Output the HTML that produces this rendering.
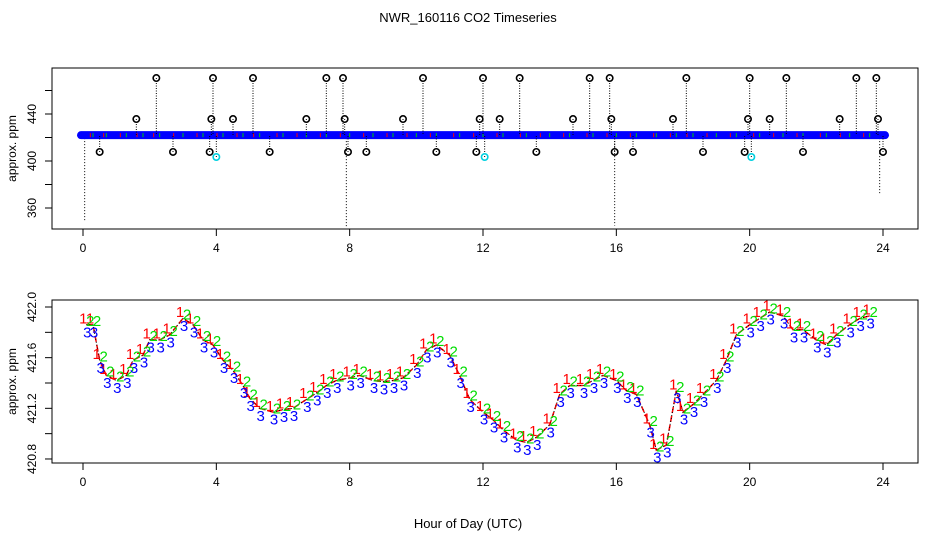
<!DOCTYPE html>
<html><head><meta charset="utf-8"><style>
body{margin:0;background:#fff}
svg{display:block;font-family:"Liberation Sans",sans-serif}
</style></head><body>
<svg id="c" width="936" height="540">
<text x="468" y="22" font-size="13" text-anchor="middle">NWR_160116  CO2 Timeseries</text>
<text x="468" y="528" font-size="13" text-anchor="middle">Hour of Day (UTC)</text>
<g id="topPanel"></g>
<g id="botPanel"></g>
</svg>
<script>
// bottom panel data (hour, ppm)
const hours=[0.1,0.3,0.5,0.7,1.0,1.3,1.5,1.8,2.0,2.3,2.6,3.0,3.3,3.6,3.9,4.2,4.5,4.8,5.0,5.3,5.7,6.0,6.3,6.7,7.0,7.3,7.6,8.0,8.3,8.7,9.0,9.3,9.6,10.0,10.3,10.6,11.0,11.3,11.6,12.0,12.3,12.6,13.0,13.3,13.6,14.0,14.3,14.6,15.0,15.3,15.6,16.0,16.3,16.6,17.0,17.2,17.5,17.8,18.0,18.3,18.6,19.0,19.3,19.6,20.0,20.3,20.6,21.0,21.3,21.6,22.0,22.3,22.6,23.0,23.3,23.6];
const ppm=[421.86,421.86,421.58,421.46,421.42,421.46,421.58,421.62,421.74,421.74,421.78,421.91,421.86,421.74,421.70,421.58,421.50,421.38,421.28,421.20,421.17,421.19,421.20,421.27,421.32,421.38,421.42,421.44,421.46,421.42,421.41,421.42,421.44,421.54,421.66,421.70,421.62,421.46,421.27,421.17,421.11,421.03,420.95,420.93,420.97,421.07,421.31,421.38,421.38,421.42,421.46,421.42,421.34,421.31,421.07,420.87,420.91,421.34,421.17,421.23,421.31,421.42,421.58,421.78,421.86,421.91,421.96,421.93,421.82,421.82,421.74,421.70,421.78,421.86,421.91,421.93];
// top panel outliers
const hiHours=[2.2,3.9,5.1,7.3,7.8,10.2,12.0,13.1,15.2,15.8,18.1,20.0,21.1,23.2,23.8];
const hiVal=470.6;
const midHours=[1.6,3.85,4.5,6.7,7.85,9.6,11.9,12.5,14.7,15.85,17.7,19.95,20.6,22.7,23.85];
const midVal=435.7;
const lowHours=[0.5,2.7,3.8,5.6,7.95,8.5,10.6,11.8,13.6,15.95,16.5,18.6,19.85,21.6,24.0];
const lowVal=407.7;
const cyanHours=[4.0,12.05,20.05];
const cyanVal=403.4;
const xTicks=[0,4,8,12,16,20,24];
const topYTicks=[360,380,400,420,440,460];
const topYLabels=[360,400,440];
const botYTicks=[420.8,421.0,421.2,421.4,421.6,421.8,422.0];
const botYLabels=[420.8,421.2,421.6,422.0];

const NS="http://www.w3.org/2000/svg";
function mk(p,t,a,txt){const e=document.createElementNS(NS,t);for(const k in a)e.setAttribute(k,a[k]);if(txt!==undefined)e.textContent=txt;p.appendChild(e);return e;}
const X=h=>83+h*(800/24);
const YT=v=>208-(v-360)*47/40;
const YB=v=>307+(422-v)*126.65;

function axes(g,y0,y1,ticks,labels,Y,fmt){
  const b=mk(g,'rect',{x:52,y:y0,width:866,height:y1-y0,fill:'none',stroke:'#000','stroke-width':1});
  
  
  xTicks.forEach(t=>{mk(g,'line',{x1:X(t),x2:X(t),y1:y1,y2:y1+7,stroke:'#000'});
    const l=mk(g,'text',{x:X(t),y:y1+23,'font-size':12,'text-anchor':'middle'},String(t));
    
    });
  ticks.forEach(t=>mk(g,'line',{x1:45,x2:52,y1:Y(t),y2:Y(t),stroke:'#000'}));
  labels.forEach(t=>{const l=mk(g,'text',{x:36,y:Y(t),'font-size':12,'text-anchor':'middle',transform:`rotate(-90 36 ${Y(t)})`},fmt(t));
    
    });
  const yl=mk(g,'text',{x:16,y:(y0+y1)/2,'font-size':12,'text-anchor':'middle',transform:`rotate(-90 16 ${(y0+y1)/2})`},'approx. ppm');
  
  
}
const topG=document.getElementById('topPanel'),botG=document.getElementById('botPanel');
axes(topG,68,229,topYTicks,topYLabels,YT,v=>String(v));
axes(botG,300,463,botYTicks,botYLabels,YB,v=>v.toFixed(1));

// top: long dotted drops
[[0.05,348],[7.9,343],[15.95,345],[23.9,372]].forEach(d=>mk(topG,'line',{x1:X(d[0]),x2:X(d[0]),y1:YT(422),y2:YT(d[1]),stroke:'#000','stroke-dasharray':'1 2'}));
// top: blue band
mk(topG,'line',{x1:X(0)-2,x2:X(24)+2,y1:YT(422),y2:YT(422),stroke:'#0000ff','stroke-width':8,'stroke-linecap':'round'});
hours.forEach((h,i)=>{if(i%2)mk(topG,'line',{x1:X(h),x2:X(h),y1:YT(422)-2,y2:YT(422)+2,stroke:'#00cc00','stroke-width':1});
  else mk(topG,'line',{x1:X(h)+4,x2:X(h)+4,y1:YT(422)-2,y2:YT(422)+2,stroke:'#ff0000','stroke-width':1});});
function outl(hs,v,col){hs.forEach(h=>{
  mk(topG,'line',{x1:X(h),x2:X(h),y1:YT(v),y2:YT(422),stroke:'#000','stroke-dasharray':'1 1.5'});
  const c=mk(topG,'circle',{cx:X(h),cy:YT(v),r:3.2,fill:'none',stroke:col,'stroke-width':1.6});
  
  });}
outl(hiHours,hiVal,'#000');outl(midHours,midVal,'#000');outl(lowHours,lowVal,'#000');outl(cyanHours,cyanVal,'#00d0e0');

// bottom: lines and labels
const off=[[0.05,'#ff0000','1',-3],[0.03,'#00dd00','2',4],[-0.06,'#0000ff','3',1]];
let d='';hours.forEach((h,i)=>d+=(i?'L':'M')+X(h)+' '+YB(ppm[i]));
mk(botG,'path',{d:d,fill:'none',stroke:'#ff0000','stroke-width':1.5,'stroke-dasharray':'6 3'});
mk(botG,'path',{d:d,fill:'none',stroke:'#000','stroke-width':1,'stroke-dasharray':'1 2'});
off.forEach(o=>{hours.forEach((h,i)=>{
  const t=mk(botG,'text',{x:X(h)+o[3],y:YB(ppm[i]+o[0])+5,'font-size':15,'text-anchor':'middle',fill:o[1]},o[2]);
  
  });});
</script>
</body></html>
